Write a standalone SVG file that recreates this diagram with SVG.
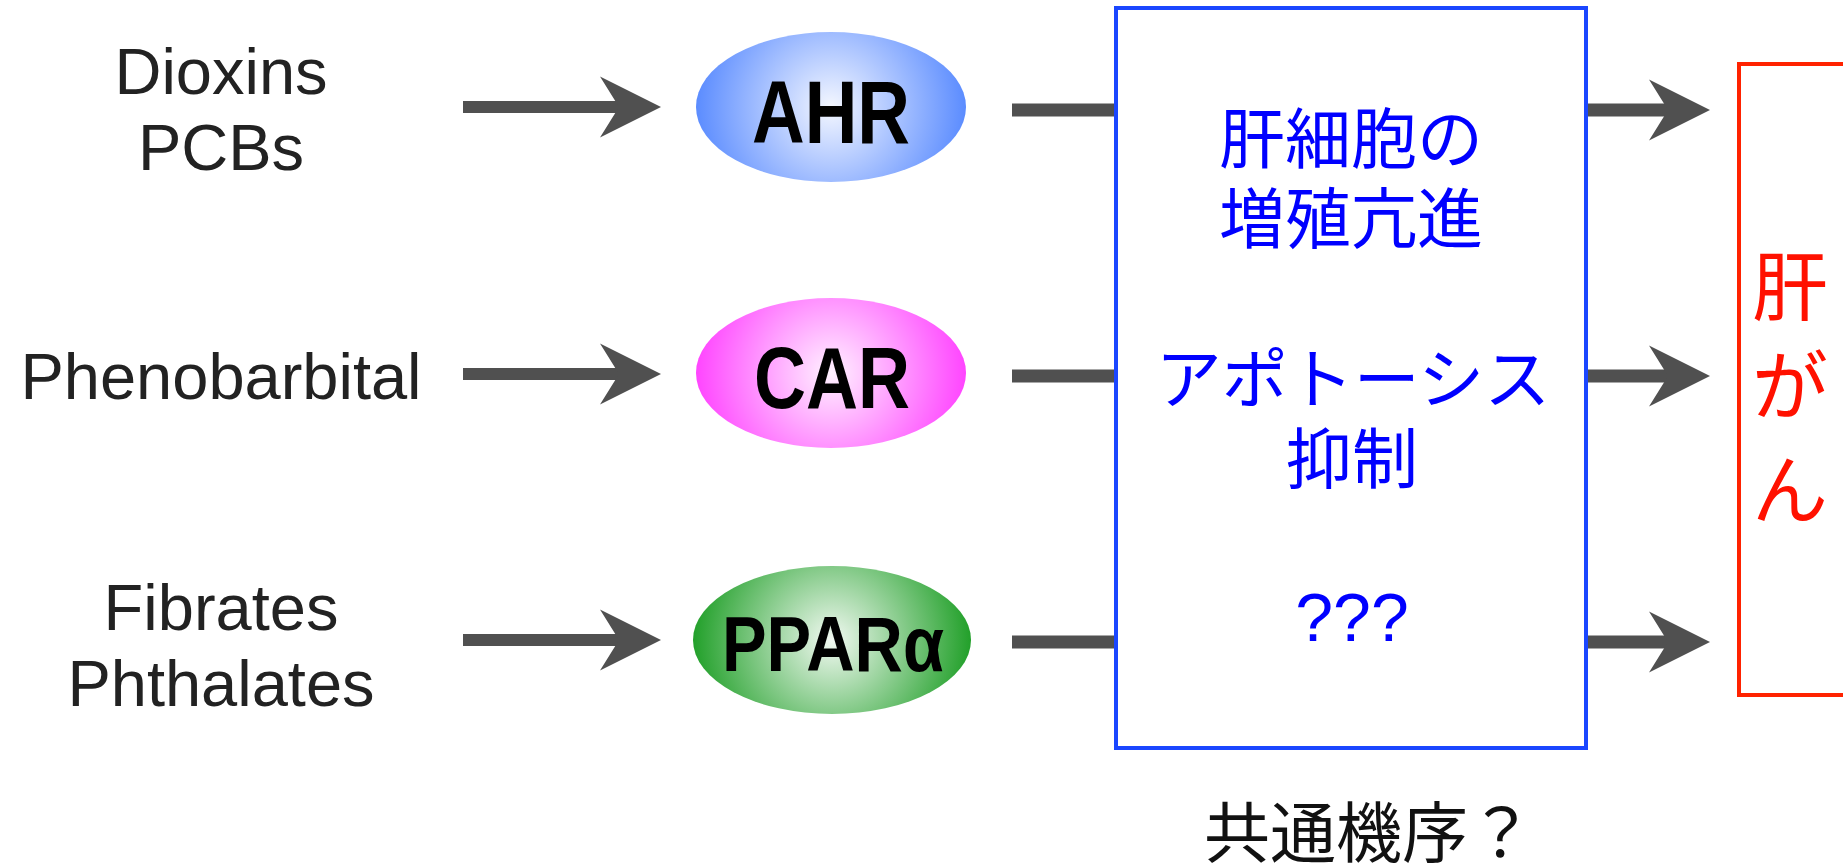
<svg xmlns="http://www.w3.org/2000/svg" width="1843" height="863" viewBox="0 0 1843 863">
<style>
.src{font-family:"Liberation Sans",Arial,sans-serif;font-size:65px;fill:#222;text-anchor:middle}
.rec{font-family:"Liberation Sans",Arial,sans-serif;font-weight:bold;fill:#000;text-anchor:middle}
.jp{font-family:"Noto Sans CJK JP","Noto Sans CJK SC",sans-serif;font-size:66px;fill:#0000ff;text-anchor:middle}
.red{font-family:"Noto Sans CJK JP","Noto Sans CJK SC",sans-serif;font-size:76px;fill:#ff1100;text-anchor:middle}
.shaft{stroke:#505050;fill:none}
.head{fill:#505050}
</style>
<defs>
<radialGradient id="gBlue" gradientUnits="objectBoundingBox" cx="0.5" cy="0.5" r="0.5" gradientTransform="translate(0.5 0.5) scale(1 1.79) translate(-0.5 -0.5)">
<stop offset="0" stop-color="#f4f7ff"/><stop offset="1" stop-color="#5b8cff"/></radialGradient>
<radialGradient id="gPink" gradientUnits="objectBoundingBox" cx="0.5" cy="0.5" r="0.5" gradientTransform="translate(0.5 0.5) scale(1 1.79) translate(-0.5 -0.5)">
<stop offset="0" stop-color="#fff2ff"/><stop offset="1" stop-color="#ff45ff"/></radialGradient>
<radialGradient id="gGreen" gradientUnits="objectBoundingBox" cx="0.5" cy="0.5" r="0.5" gradientTransform="translate(0.5 0.5) scale(1 1.86) translate(-0.5 -0.5)">
<stop offset="0" stop-color="#f2f9f2"/><stop offset="1" stop-color="#22a02a"/></radialGradient>
<polygon id="ah" points="0,-30.5 61,0 0,30.5 19,0"/>
</defs>

<g id="connectors">
<path class="shaft" stroke-width="12" d="M463 107H622M463 374H622M463 640H622"/>
<use href="#ah" class="head" x="600" y="107"/>
<use href="#ah" class="head" x="600" y="374"/>
<use href="#ah" class="head" x="600" y="640"/>
<path class="shaft" stroke-width="13" d="M1012 110H1116M1012 376H1116M1012 642H1116"/>
<path class="shaft" stroke-width="13" d="M1586 110H1670M1586 376H1670M1586 642H1670"/>
<use href="#ah" class="head" x="1649" y="110"/>
<use href="#ah" class="head" x="1649" y="376"/>
<use href="#ah" class="head" x="1649" y="642"/>
</g>

<g id="src-dioxins"><text class="src" x="221" y="94">Dioxins</text><text class="src" x="221" y="170">PCBs</text></g>
<g id="src-pheno"><text class="src" x="221" y="399">Phenobarbital</text></g>
<g id="src-fibrates"><text class="src" x="221" y="630">Fibrates</text><text class="src" x="221" y="706">Phthalates</text></g>

<g id="node-ahr"><ellipse cx="831" cy="107" rx="135" ry="75" fill="url(#gBlue)"/>
<text class="rec" x="831" y="143" font-size="89" textLength="158" lengthAdjust="spacingAndGlyphs">AHR</text></g>
<g id="node-car"><ellipse cx="831" cy="373" rx="135" ry="75" fill="url(#gPink)"/>
<text class="rec" x="832" y="408" font-size="88" textLength="156" lengthAdjust="spacingAndGlyphs">CAR</text></g>
<g id="node-ppar"><ellipse cx="832" cy="640" rx="139" ry="74" fill="url(#gGreen)"/>
<text class="rec" x="833" y="671" font-size="78" textLength="222" lengthAdjust="spacingAndGlyphs">PPARα</text></g>

<g id="node-mechanism">
<rect x="1116" y="8" width="470" height="740" fill="none" stroke="#1a46ff" stroke-width="4"/>
<text class="jp" x="1351" y="163">肝細胞の</text>
<text class="jp" x="1351" y="243">増殖亢進</text>
<text class="jp" x="1353" y="403">アポトーシス</text>
<text class="jp" x="1352" y="483">抑制</text>
<text class="jp" x="1352" y="641" style="font-family:'Liberation Sans',Arial,sans-serif;font-size:68px">???</text>
</g>

<g id="node-cancer">
<rect x="1739" y="64" width="200" height="631" fill="none" stroke="#ff2200" stroke-width="4"/>
<text class="red" x="1790" y="315">肝</text>
<text class="red" x="1790" y="414">が</text>
<text class="red" x="1790" y="518">ん</text>
</g>

<g id="caption"><text x="1204" y="857" style="font-family:'Noto Sans CJK JP','Noto Sans CJK SC',sans-serif;font-size:66px;fill:#111">共通機序？</text></g>
</svg>
